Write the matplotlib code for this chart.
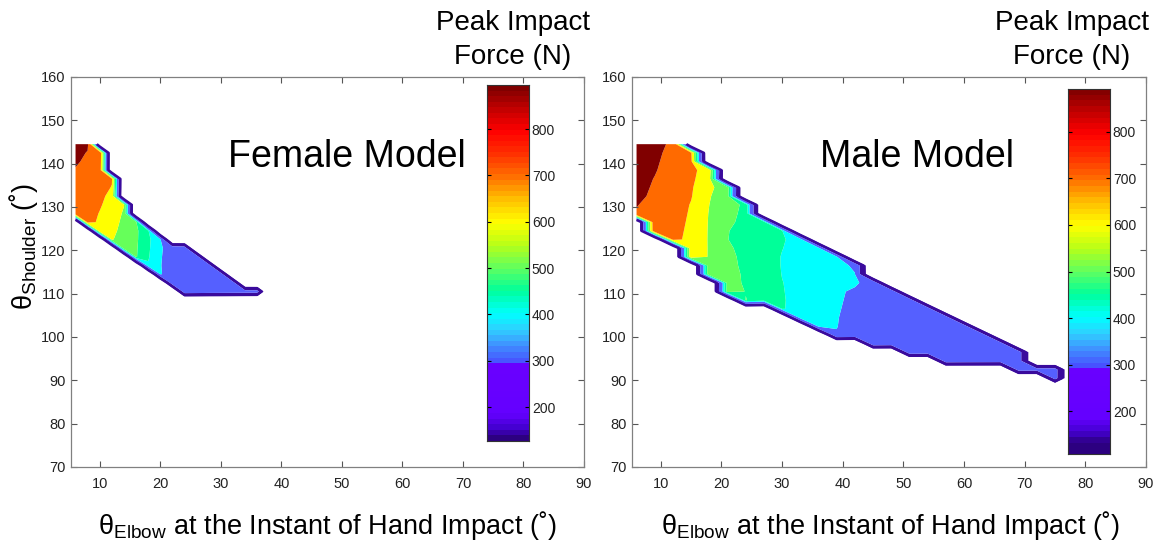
import numpy as np
import matplotlib
matplotlib.use('Agg')
import matplotlib.pyplot as plt

plt.rcParams['font.family'] = ['Liberation Sans', 'DejaVu Sans']
plt.rcParams['mathtext.fontset'] = 'custom'
plt.rcParams['mathtext.rm'] = 'Liberation Sans'
plt.rcParams['mathtext.it'] = 'Liberation Sans:italic'

# sampled grid: shoulder angle rows every 2 deg from 144.5 downwards
STEP = 2.0
TOP = 144.5

# female model: elbow columns, top shoulder row of each column, forces (N) top -> bottom
female_elbow = [6, 8, 10, 12, 14, 16, 18, 20, 22, 24, 26, 28, 30, 32, 34, 36]
female_top = [144.5, 144.5, 142.5, 136.5, 130.5, 126.5, 124.5, 122.5,
              120.5, 120.5, 118.5, 116.5, 114.5, 112.5, 110.5, 110.5]
female_force = [
    [880, 850, 820, 790, 770, 760, 750, 740, 730],
    [830, 790, 770, 750, 730, 720, 715, 700, 690, 680],
    [730, 720, 710, 700, 690, 675, 660, 645, 635, 625],
    [660, 645, 620, 610, 595, 585, 575, 565],
    [562, 552, 545, 540, 530, 530],
    [505, 500, 500, 497, 495],
    [445, 440, 438, 435, 425],
    [390, 388, 385, 383, 385],
    [350, 350, 350, 350, 348],
    [340, 340, 340, 340, 340, 340],
    [335, 335, 335, 335, 335],
    [330, 330, 330, 330],
    [328, 328, 328],
    [325, 325],
    [322],
    [320],
]
female_range = (127, 895)

# male model
male_elbow = [6, 9, 12, 15, 18, 21, 24, 27, 30, 33, 36, 39, 42, 45, 48,
              51, 54, 57, 60, 63, 66, 69, 72, 75]
male_top = [144.5, 144.5, 144.5, 142.5, 138.5, 134.5, 130.5, 126.5, 124.5,
            122.5, 120.5, 118.5, 116.5, 112.5, 110.5, 108.5, 106.5, 104.5,
            102.5, 100.5, 98.5, 96.5, 92.5, 92.5]
male_force = [
    [890, 880, 870, 860, 850, 840, 830, 805, 790],
    [840, 830, 820, 810, 795, 785, 775, 765, 755, 745, 740],
    [776, 760, 750, 740, 730, 720, 710, 695, 690, 685, 680, 675],
    [660, 670, 675, 670, 660, 655, 645, 640, 635, 630, 625, 620, 618],
    [600, 585, 575, 565, 560, 555, 553, 552, 552, 553, 553, 553, 553],
    [520, 515, 510, 505, 500, 492, 491, 498, 505, 508, 512, 515, 520],
    [480, 478, 476, 473, 471, 474, 475, 477, 481, 482, 488, 492],
    [456, 455, 452, 452, 450, 451, 452, 455, 458, 460],
    [437, 433, 431, 428, 428, 429, 431, 432, 433, 432],
    [418, 416, 415, 415, 416, 418, 418, 418, 420, 420],
    [403, 402, 403, 405, 407, 403, 401, 402, 402, 402],
    [390, 390, 393, 395, 388, 386, 384, 382, 381, 378],
    [375, 381, 388, 372, 370, 368, 366, 365, 364],
    [355, 350, 350, 350, 350, 350, 350, 350],
    [345, 343, 342, 342, 342, 342, 342],
    [338, 337, 337, 337, 337, 337, 337],
    [333, 333, 333, 333, 333, 333],
    [330, 330, 330, 330, 330, 330],
    [327, 327, 327, 327, 327],
    [325, 325, 325, 325],
    [323, 323, 323],
    [321, 321, 320],
    [318],
    [316, 315],
]
male_range = (108, 892)

# contour bands (lowest level = edge of the computed region)
band_levels = [150, 275, 380, 430, 490, 560, 650, 800, 900]
band_colors = ['#3a0a9c', '#5560ff', '#00ffff', '#00ff99', '#66ff5a',
               '#ffff00', '#ff6a00', '#800000']
edge_level = 200

cbar_values = [127, 150, 180, 288, 294, 330, 365, 400, 450, 500, 550, 600,
               650, 700, 750, 800, 850, 895]
cbar_hex = ['#2c0080', '#4400d0', '#6400ff', '#6a00ff', '#4850ff', '#4090ff',
            '#30d0ff', '#00ffff', '#00ff9c', '#60ff60', '#b8ff18', '#ffff00',
            '#ffc000', '#ff7000', '#ff3000', '#ff0000', '#c00000', '#800000']

W, H = 1166, 548


def fx(px):
    return px / W


def fy(py):
    return 1 - py / H


def build_grid(elbow, tops, forces, dx):
    xs = np.append(np.array(elbow, float), elbow[-1] + dx)
    lowest = min(t - STEP * (len(c) - 1) for t, c in zip(tops, forces))
    ys = np.arange(TOP, lowest - STEP - 0.01, -STEP)
    z = np.zeros((len(ys), len(xs)))
    for j, (t, col) in enumerate(zip(tops, forces)):
        i0 = int(round((TOP - t) / STEP))
        z[i0:i0 + len(col), j] = col
    return xs, ys[::-1], z[::-1]


def cbar_rgb(vmin, vmax, n=64):
    vals = np.linspace(vmin, vmax, n)
    anchors = np.array([matplotlib.colors.to_rgb(c) for c in cbar_hex])
    rgb = np.stack([np.interp(vals, cbar_values, anchors[:, k]) for k in range(3)], axis=1)
    return rgb[:, None, :]


def style_axes(ax):
    ax.set_xlim(5.25, 90)
    ax.set_ylim(70, 160)
    ax.set_xticks(np.arange(10, 91, 10))
    ax.set_yticks(np.arange(70, 161, 10))
    ax.tick_params(direction='in', top=True, right=True, length=4, width=0.8,
                   color='#555555', labelcolor='#222222', labelsize=10.5, pad=4)
    ax.tick_params(axis='x', pad=7)
    for s in ax.spines.values():
        s.set_color('#808080')
        s.set_linewidth(0.9)


fig = plt.figure(figsize=(W / 100, H / 100), dpi=100)

panels = [
    (female_elbow, female_top, female_force, 2, female_range,
     [71, 77, 584, 467], [487, 85, 529, 441], 'Female Model', 228, 513, 327),
    (male_elbow, male_top, male_force, 3, male_range,
     [632, 77, 1146, 467], [1068, 89, 1110, 454], 'Male Model', 820, 1072, 890),
]

for elbow, tops, forces, dx, (vmin, vmax), box, cbox, name, name_x, lab_x, xl_x in panels:
    ax = fig.add_axes([fx(box[0]), fy(box[3]), fx(box[2] - box[0]), (box[3] - box[1]) / H])
    xs, ys, z = build_grid(elbow, tops, forces, dx)
    ax.contourf(xs, ys, z, levels=band_levels, colors=band_colors,
                antialiased=True)
    ax.contour(xs, ys, z, levels=[edge_level], colors=band_colors[0],
               linewidths=1.8)
    style_axes(ax)

    cax = fig.add_axes([fx(cbox[0]), fy(cbox[3]), fx(cbox[2] - cbox[0]), (cbox[3] - cbox[1]) / H])
    cax.imshow(cbar_rgb(vmin, vmax), origin='lower', aspect='auto',
               extent=[0, 1, vmin, vmax], interpolation='nearest')
    cax.set_xticks([])
    cax.set_yticks(np.arange(200, 801, 100))
    cax.set_ylim(vmin, vmax)
    cax.tick_params(direction='in', left=True, right=True, labelleft=False,
                    labelright=True, length=3, width=0.8, labelsize=10,
                    labelcolor='#222222', pad=2)
    for s in cax.spines.values():
        s.set_color('#333333')
        s.set_linewidth(0.8)

    fig.text(fx(name_x), fy(157), name, fontsize=27, ha='left', va='center')
    fig.text(fx(lab_x), fy(40), 'Peak Impact\nForce (N)', fontsize=20,
             ha='center', va='center', multialignment='center', linespacing=1.35)
    fig.text(fx(xl_x), fy(525),
             r'$\mathregular{\theta_{Elbow}}$ at the Instant of Hand Impact (˚)',
             fontsize=19.5, ha='center', va='center')

fig.text(fx(24), fy(246), r'$\mathregular{\theta_{Shoulder}}$ (˚)', fontsize=19.5,
         rotation=90, ha='center', va='center')

fig.savefig('out.png', dpi=100)
